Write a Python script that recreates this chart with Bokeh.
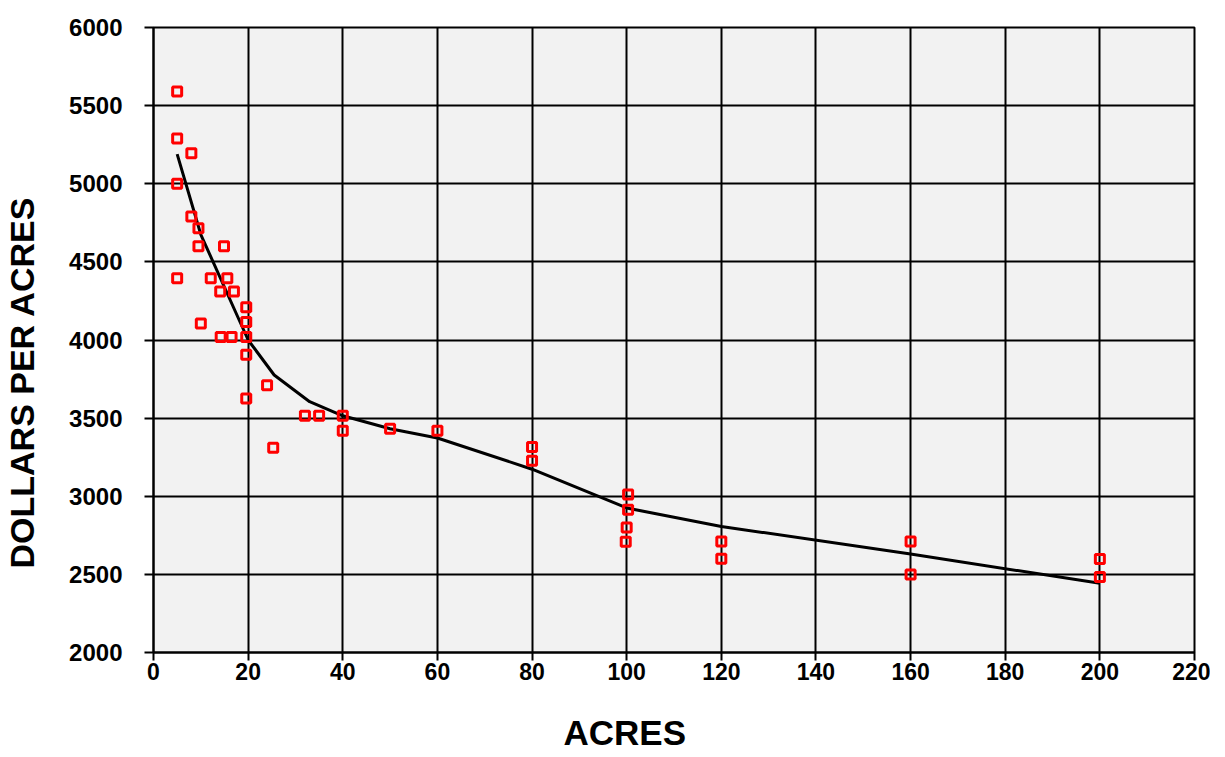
from bokeh.plotting import figure
from bokeh.models import Range1d, FixedTicker, LinearAxis, Title
from bokeh.embed import file_html
from bokeh.resources import INLINE

# scatter data (acres, dollars per acre)
acres = [5, 5, 8, 5, 8, 9.5, 9.5, 14.9, 5, 12.1, 15.6, 14.1, 17, 19.6, 19.6,
         10, 14.2, 16.5, 19.6, 19.6, 24, 19.6, 32, 35, 40, 40, 25.3, 50, 60,
         80, 80, 100.3, 100.3, 100, 99.8, 120, 120, 160, 160, 200, 200]
dollars = [5590, 5290, 5195, 5000, 4790, 4715, 4600, 4600, 4395, 4395, 4395,
           4310, 4310, 4210, 4115, 4105, 4020, 4020, 4020, 3905, 3710, 3625,
           3515, 3515, 3515, 3420, 3310, 3432, 3420, 3315, 3228, 3012, 2913,
           2800, 2709, 2710, 2600, 2710, 2500, 2598, 2483]

# trend line
trend_x = [5, 10, 20, 25.5, 33, 40, 50, 60, 80, 100, 120, 160, 200]
trend_y = [5190, 4675, 4000, 3776, 3605, 3515, 3432, 3373, 3173, 2925, 2807, 2630, 2443]

x_ticks = [0, 20, 40, 60, 80, 100, 120, 140, 160, 180, 200, 220]
y_ticks = [2000, 2500, 3000, 3500, 4000, 4500, 5000, 5500, 6000]

FONT = "Liberation Sans"

p = figure(width=1210, height=757, output_backend="svg", toolbar_location=None,
           x_range=Range1d(0, 220), y_range=Range1d(2000, 6000),
           min_border_left=152, min_border_right=16, min_border_top=27,
           min_border_bottom=105)

p.background_fill_color = "#f2f2f2"
p.border_fill_color = "white"
p.outline_line_color = "black"
p.outline_line_width = 2

for ax in (p.xaxis[0], p.yaxis[0]):
    ax.axis_line_color = "black"
    ax.axis_line_width = 2
    ax.major_tick_line_color = "black"
    ax.major_tick_line_width = 2
    ax.major_tick_in = 0
    ax.minor_tick_line_color = None
    ax.major_label_text_font = FONT
    ax.major_label_text_font_style = "bold"
    ax.major_label_text_color = "black"

p.xaxis.major_label_text_font_size = "23px"
p.yaxis.major_label_text_font_size = "24px"
p.xaxis.ticker = FixedTicker(ticks=x_ticks)
p.yaxis.ticker = FixedTicker(ticks=y_ticks)
p.xaxis.major_tick_out = 8
p.yaxis.major_tick_out = 9
p.xaxis.major_label_standoff = 2
p.yaxis.major_label_standoff = 22

p.xgrid.ticker = FixedTicker(ticks=x_ticks)
p.ygrid.ticker = FixedTicker(ticks=y_ticks)
for g in (p.xgrid[0], p.ygrid[0]):
    g.grid_line_color = "black"
    g.grid_line_width = 2
    g.grid_line_alpha = 1.0

p.line(trend_x, trend_y, line_color="black", line_width=3)
p.scatter(acres, dollars, marker="square", size=9, fill_color=None,
          line_color="#ff0000", line_width=3)


def spacer_axis(size, at):
    # an invisible axis (white tick on white border, empty label) that only
    # reserves border space between the tick labels and the axis title
    return LinearAxis(ticker=FixedTicker(ticks=[at]), axis_line_color=None,
                      major_tick_out=size, major_tick_in=0,
                      minor_tick_out=0, minor_tick_in=0,
                      major_tick_line_color="white", major_tick_line_width=1,
                      minor_tick_line_color=None,
                      major_label_overrides={at: ""},
                      major_label_text_font_size="1px",
                      major_label_standoff=0)


p.add_layout(spacer_axis(28, 0), "below")
p.add_layout(Title(text="ACRES", text_font=FONT, text_font_style="bold",
                   text_font_size="35px", text_color="black", align="left",
                   offset=410, standoff=0), "below")

p.add_layout(spacer_axis(26, 2000), "left")
p.add_layout(Title(text="DOLLARS PER ACRES", text_font=FONT,
                   text_font_style="bold", text_font_size="34px",
                   text_color="black", align="left", offset=84, standoff=0),
             "left")

open("out.html", "w").write(file_html(p, INLINE))
